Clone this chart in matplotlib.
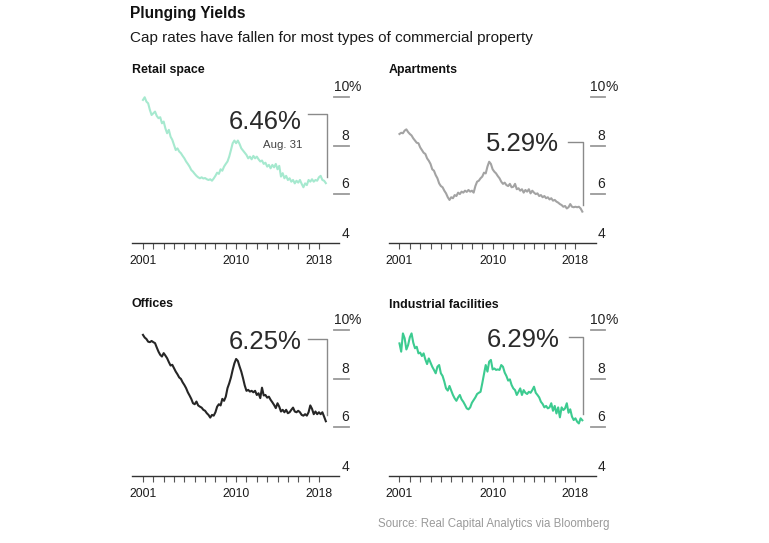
import numpy as np
import matplotlib
matplotlib.use('Agg')
import matplotlib.pyplot as plt
from matplotlib.transforms import blended_transform_factory

plt.rcParams['font.family'] = ['Liberation Sans', 'DejaVu Sans']

# ---- data -------------------------------------------------------------
# sampling: every 2 months, Dec 31 2000 .. Aug 31 2018
months = np.arange(0, 213, 2)
years = 2001 + months / 12.0

retail = [9.88, 9.99, 9.81, 9.74, 9.47, 9.26, 9.33, 9.40, 9.22, 9.13,
          9.17, 8.92, 8.99, 8.71, 8.51, 8.65, 8.37, 8.24, 8.03, 7.82,
          7.89, 7.76, 7.69, 7.58, 7.48, 7.35, 7.25, 7.14, 7.00, 6.93,
          6.84, 6.76, 6.70, 6.66, 6.70, 6.65, 6.67, 6.62, 6.59, 6.62,
          6.56, 6.65, 6.76, 6.89, 6.84, 7.03, 6.97, 7.14, 7.25, 7.35,
          7.55, 7.82, 8.10, 8.21, 8.10, 8.21, 8.07, 7.89, 7.80, 7.71,
          7.62, 7.48, 7.55, 7.44, 7.58, 7.48, 7.55, 7.44, 7.35, 7.39,
          7.25, 7.30, 7.14, 7.21, 7.07, 7.21, 7.11, 7.25, 7.03, 7.17,
          6.73, 6.87, 6.66, 6.76, 6.59, 6.66, 6.52, 6.59, 6.45, 6.56,
          6.48, 6.59, 6.43, 6.29, 6.45, 6.38, 6.59, 6.52, 6.62, 6.52,
          6.59, 6.56, 6.70, 6.76, 6.59, 6.56, 6.46]

apartments = [8.48, 8.53, 8.51, 8.62, 8.67, 8.56, 8.48, 8.42, 8.30, 8.21,
              8.12, 8.10, 7.93, 7.82, 7.71, 7.66, 7.48, 7.38, 7.25, 7.03,
              6.97, 6.79, 6.66, 6.45, 6.34, 6.29, 6.15, 6.04, 5.88, 5.77,
              5.88, 5.84, 5.97, 5.93, 6.07, 6.01, 6.11, 6.07, 6.15, 6.10,
              6.18, 6.11, 6.15, 6.07, 6.34, 6.52, 6.56, 6.66, 6.73, 6.89,
              6.86, 7.14, 7.34, 7.25, 7.03, 6.93, 6.86, 6.75, 6.66, 6.52,
              6.43, 6.48, 6.38, 6.34, 6.43, 6.29, 6.31, 6.43, 6.21, 6.25,
              6.15, 6.21, 6.07, 6.18, 6.11, 6.21, 6.04, 6.15, 6.07, 6.01,
              6.04, 5.93, 5.97, 5.88, 5.93, 5.84, 5.88, 5.79, 5.84, 5.74,
              5.77, 5.70, 5.66, 5.60, 5.56, 5.49, 5.52, 5.42, 5.47, 5.60,
              5.49, 5.47, 5.49, 5.47, 5.49, 5.42, 5.29]

offices = [9.80, 9.69, 9.63, 9.52, 9.50, 9.55, 9.50, 9.46, 9.28, 9.11,
           8.98, 8.91, 9.05, 8.95, 8.84, 8.68, 8.54, 8.57, 8.43, 8.29,
           8.18, 8.05, 7.99, 7.85, 7.74, 7.61, 7.44, 7.31, 7.17, 6.99,
           6.95, 7.06, 6.90, 6.85, 6.81, 6.72, 6.68, 6.58, 6.51, 6.40,
           6.51, 6.48, 6.62, 6.85, 6.95, 6.90, 7.17, 7.09, 7.26, 7.61,
           7.81, 8.05, 8.36, 8.63, 8.81, 8.73, 8.50, 8.29, 8.02, 7.72,
           7.50, 7.54, 7.47, 7.50, 7.44, 7.50, 7.33, 7.40, 7.20, 7.63,
           7.31, 7.33, 7.22, 7.26, 7.13, 7.03, 6.92, 6.79, 6.99, 6.85,
           6.65, 6.72, 6.62, 6.72, 6.58, 6.62, 6.72, 6.81, 6.65, 6.62,
           6.68, 6.62, 6.51, 6.48, 6.54, 6.48, 6.62, 6.90, 6.76, 6.54,
           6.65, 6.54, 6.62, 6.54, 6.62, 6.44, 6.25]

industrial = [9.45, 9.11, 9.86, 9.66, 9.20, 9.38, 9.70, 9.86, 9.48, 9.25,
              9.31, 9.04, 9.07, 8.93, 9.04, 8.79, 8.60, 8.83, 8.66, 8.49,
              8.36, 8.22, 8.49, 8.56, 8.22, 8.11, 7.88, 7.60, 7.51, 7.70,
              7.51, 7.33, 7.19, 7.09, 7.23, 7.33, 7.15, 7.05, 6.92, 6.78,
              6.74, 6.82, 7.01, 7.12, 7.23, 7.37, 7.42, 7.46, 7.81, 8.19,
              8.56, 8.29, 8.70, 8.77, 8.38, 8.42, 8.36, 8.38, 8.36, 8.56,
              8.49, 8.25, 8.11, 7.92, 7.97, 7.74, 7.60, 7.53, 7.33, 7.46,
              7.60, 7.33, 7.53, 7.42, 7.37, 7.46, 7.42, 7.53, 7.67, 7.42,
              7.33, 7.23, 7.05, 6.96, 6.82, 6.88, 6.78, 6.82, 6.99, 6.68,
              6.88, 6.57, 6.82, 6.41, 6.82, 6.71, 6.78, 6.99, 6.60, 6.74,
              6.44, 6.30, 6.37, 6.23, 6.16, 6.37, 6.29]

panel_titles = ['Retail space', 'Apartments', 'Offices', 'Industrial facilities']
latest_labels = ['6.46%', '5.29%', '6.25%', '6.29%']
date_note = 'Aug. 31'
y_ticks = [4, 6, 8, 10]
y_tick_labels = ['4', '6', '8', '10']
x_tick_years = list(range(2001, 2019))
x_labeled = [2001, 2010, 2018]

series = [retail, apartments, offices, industrial]
colors = ['#a6e9cf', '#a3a3a3', '#262626', '#3ccb90']

# ---- layout (pixels) ----------------------------------------------------
W, H = 769, 543
fig = plt.figure(figsize=(W / 100, H / 100), dpi=100)
fig.patch.set_facecolor('white')

ax_w, ax_h = 207, 146
origins = [(132, 243), (388.5, 243), (132, 476), (388.5, 476)]
title_pos = [(132, 73), (389, 73), (132, 307), (389, 308)]
# annotation positions: text right x, text baseline y, bracket y, bracket start x
ann = [(2016.36, 8.67, 9.30, 2016.97),
       (2016.44, 7.79, 8.16, 2017.32),
       (2016.33, 9.22, 9.63, 2016.97),
       (2016.50, 9.31, 9.73, 2017.40)]
bracket_x = 2018.78

fig.text(130 / W, 1 - 18 / H, 'Plunging Yields', fontsize=11.2,
         fontweight='bold', color='#111111', va='baseline')
fig.text(130 / W, 1 - 42 / H,
         'Cap rates have fallen for most types of commercial property',
         fontsize=11, color='#1a1a1a', va='baseline')
fig.text(610 / W, 1 - 527 / H, 'Source: Real Capital Analytics via Bloomberg',
         fontsize=8.3, color='#9a9a9a', va='baseline', ha='right')

for k in range(4):
    lx, by = origins[k]
    ax = fig.add_axes([lx / W, 1 - by / H, ax_w / W, ax_h / H])
    ax.set_xlim(1999.94, 2019.94)
    ax.set_ylim(4, 10)
    for s in ['top', 'right', 'left']:
        ax.spines[s].set_visible(False)
    ax.spines['bottom'].set_color('#333333')
    ax.spines['bottom'].set_linewidth(1.0)
    ax.set_yticks([])
    ax.set_xticks(x_tick_years)
    ax.set_xticklabels([str(y) if y in x_labeled else '' for y in x_tick_years])
    ax.tick_params(axis='x', direction='out', length=4.5, width=0.8,
                   color='#555555', labelsize=8.7, labelcolor='#1a1a1a', pad=4)
    ax.patch.set_alpha(0)

    ax.plot(years, series[k], color=colors[k], lw=1.5, clip_on=False,
            solid_joinstyle='round')

    tr = blended_transform_factory(ax.transAxes, ax.transData)
    for v, lab in zip(y_ticks, y_tick_labels):
        if v != 4:
            ax.plot([0.976, 1.048], [v, v], transform=tr, clip_on=False,
                    color='#9a9a9a', lw=1.3)
            ax.text(1.048, v + 0.25, lab, transform=tr, ha='right',
                    va='baseline', fontsize=10, color='#222222')
        else:
            ax.text(1.048, v + 0.2, lab, transform=tr, ha='right',
                    va='baseline', fontsize=10, color='#222222')
        if v == 10:
            ax.text(1.048, v + 0.25, '%', transform=tr, ha='left',
                    va='baseline', fontsize=10, color='#222222')

    tx, ty, bty, bx0 = ann[k]
    last = series[k][-1]
    ax.text(tx, ty, latest_labels[k], ha='right', va='baseline',
            fontsize=18.5, color='#2a2a2a')
    ax.plot([bx0, bracket_x, bracket_x], [bty, bty, last + 0.27],
            color='#8a8a8a', lw=1.0, clip_on=False)
    if k == 0:
        ax.text(tx + 0.07, 7.89, date_note, ha='right', va='baseline',
                fontsize=8.2, color='#444444')

    fig.text(title_pos[k][0] / W, 1 - title_pos[k][1] / H, panel_titles[k],
             fontsize=8.9, fontweight='bold', color='#111111', va='baseline')

fig.savefig('out.png', dpi=100, facecolor='white')
